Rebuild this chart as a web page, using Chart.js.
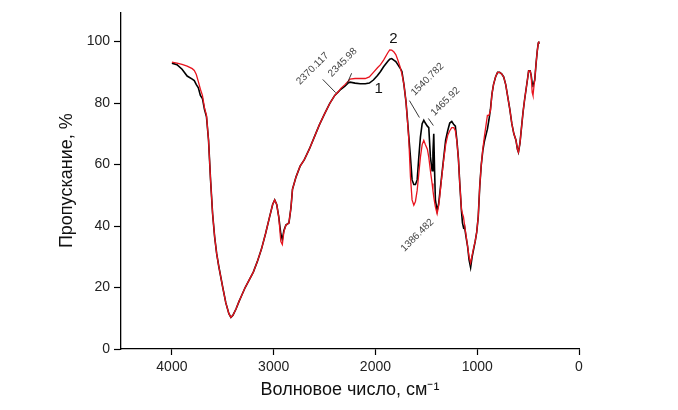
<!DOCTYPE html>
<html>
<head>
<meta charset="utf-8">
<script src="https://cdn.jsdelivr.net/npm/chart.js@4/dist/chart.umd.min.js"></script>
<style>
html,body{margin:0;padding:0;background:#fff;}
#wrap{width:678px;height:410px;}
</style>
</head>
<body>
<div id="wrap"><canvas id="c" width="678" height="410"></canvas></div>
<script>
// Wavenumbers, cm^-1
const wavenumbers = [4000,3950,3900,3850,3800,3780,3760,3740,3720,3700,3680,3660,3640,3620,3600,3580,3560,3540,3500,3470,3440,3420,3400,3370,3340,3320,3280,3240,3200,3160,3120,3080,3040,3010,2990,2970,2950,2930,2915,2900,2880,2850,2830,2815,2780,2740,2700,2650,2600,2550,2500,2450,2400,2370,2340,2300,2270,2250,2200,2150,2100,2060,2020,1980,1950,1920,1880,1860,1840,1820,1800,1780,1760,1740,1720,1700,1685,1672,1656,1640,1623,1607,1590,1574,1558,1541,1525,1510,1490,1476,1460,1443,1435,1427,1419,1411,1394,1380,1370,1350,1330,1310,1290,1270,1250,1230,1215,1200,1185,1170,1155,1145,1135,1125,1110,1095,1080,1065,1050,1035,1020,1005,990,975,960,945,930,915,900,885,870,855,840,820,800,780,760,740,720,700,680,660,640,620,605,595,580,565,550,535,520,505,495,480,470,460,452,444,435,422,410,400,395];
// Sample 1 (black), transmittance %
const sample1 = [93.0,92.5,91.0,88.8,87.8,87.3,86.0,85.0,82.5,81.5,78.0,75.5,68.0,55.0,44.0,36.5,31.0,27.0,20.0,15.0,11.5,10.3,11.0,13.0,15.5,17.0,20.0,22.5,25.0,28.5,32.5,37.5,43.0,47.0,48.5,47.0,43.0,37.5,35.5,38.5,40.3,41.0,46.0,52.0,56.0,59.5,61.5,65.0,69.0,73.0,76.5,79.8,82.5,83.5,84.5,85.5,86.5,86.8,86.5,86.3,86.3,86.5,87.5,89.0,90.3,91.8,93.5,94.3,94.5,94.0,93.5,92.5,91.5,90.3,86.0,80.5,74.5,69.0,62.4,55.0,53.5,53.5,55.0,62.4,69.0,73.3,74.4,73.5,72.5,72.0,62.5,58.0,64.0,70.0,58.0,48.5,45.0,47.0,50.0,56.0,62.0,68.0,71.0,73.5,74.0,73.0,72.5,68.0,62.0,53.0,45.0,41.0,39.5,40.0,36.5,33.5,29.0,26.5,30.0,32.5,35.0,38.0,43.0,53.0,60.0,64.5,67.5,69.5,71.5,74.5,78.0,83.0,86.0,88.5,90.0,90.0,89.5,88.5,86.0,82.0,78.0,73.3,70.0,68.0,65.0,64.0,67.0,72.0,77.0,81.0,84.5,88.0,90.5,90.5,89.0,86.5,86.0,86.5,87.5,92.8,97.0,99.5,100.0];
// Sample 2 (red), transmittance %
const sample2 = [93.3,93.0,92.6,92.0,91.2,90.6,89.3,87.0,84.5,82.5,78.5,76.0,68.0,55.0,44.0,36.5,31.0,27.0,20.0,15.0,11.5,10.3,11.0,13.0,15.5,17.0,20.0,22.5,25.0,28.5,32.5,37.5,43.0,47.0,48.5,47.0,43.0,35.0,34.0,38.0,40.3,41.0,46.0,52.0,56.0,59.5,61.5,65.0,69.0,73.0,76.5,79.8,82.5,83.5,84.8,86.0,87.0,87.8,88.0,88.0,88.0,88.5,90.0,91.5,92.5,94.0,96.3,97.3,97.2,96.7,95.8,94.0,92.0,89.5,86.0,80.5,74.0,67.9,56.0,48.5,46.8,48.0,51.6,57.0,62.4,66.5,67.9,66.5,65.0,62.4,58.0,53.8,51.5,49.5,47.8,46.2,44.0,46.5,49.0,55.5,61.5,66.5,69.5,71.0,72.0,72.0,71.0,67.5,62.0,53.0,45.5,44.0,43.0,40.5,37.0,33.5,30.0,28.0,30.5,33.0,35.0,38.0,43.0,53.0,60.0,65.0,69.0,72.5,76.0,76.0,77.5,83.0,86.0,88.5,90.0,90.0,89.5,88.5,86.0,82.0,78.0,73.3,70.0,68.0,65.0,64.0,67.0,72.0,77.0,81.0,84.5,88.0,90.5,90.5,89.0,83.5,82.5,85.0,87.5,92.8,97.0,99.5,100.0];
// Axis ticks
const xTicks = [4000,3000,2000,1000,0];
const yTicks = [0,20,40,60,80,100];
// Peak labels: text, anchor (wavenumber, %) for text centre, leader line from/to
const peakLabels = ["2370.117","2345.98","1540.782","1465.92","1386.482"];
const peakTextPos = [[2617,91.2],[2322,93.2],[1489,87.7],[1313,80.5],[1588,37.0]];
const peakLeaders = [[[2518,87.7],[2391,83.4]],[[2234,89.7],[2283,86.0]],[[1666,80.8],[1568,75.3]],[[1480,75.0],[1431,72.7]],null];
const curveNames = ["1","2"];
const curveNamePos = [[1969,84.7],[1823,101.0]];

const toPts = (ys) => wavenumbers.map((w,i)=>({x:w,y:ys[i]}));

const annotate = {
  id:'annotate',
  afterDatasetsDraw(chart){
    const {ctx, scales:{x,y}} = chart;
    ctx.save();
    ctx.strokeStyle = '#222';
    ctx.lineWidth = 0.9;
    peakLeaders.forEach(l=>{
      if(!l) return;
      ctx.beginPath();
      ctx.moveTo(x.getPixelForValue(l[0][0]), y.getPixelForValue(l[0][1]));
      ctx.lineTo(x.getPixelForValue(l[1][0]), y.getPixelForValue(l[1][1]));
      ctx.stroke();
    });
    ctx.fillStyle = '#444';
    ctx.font = '10px "Liberation Sans", Arial, sans-serif';
    ctx.textAlign = 'center';
    ctx.textBaseline = 'middle';
    peakLabels.forEach((t,i)=>{
      const px = x.getPixelForValue(peakTextPos[i][0]);
      const py = y.getPixelForValue(peakTextPos[i][1]);
      ctx.save();
      ctx.translate(px,py);
      ctx.rotate(-Math.PI/4);
      ctx.fillText(t,0,0);
      ctx.restore();
    });
    ctx.fillStyle = '#111';
    ctx.font = '15px "Liberation Sans", Arial, sans-serif';
    curveNames.forEach((t,i)=>{
      ctx.fillText(t, x.getPixelForValue(curveNamePos[i][0]), y.getPixelForValue(curveNamePos[i][1]));
    });
    ctx.restore();
  }
};

const tickFont = {family:'"Liberation Sans", Arial, sans-serif', size:14};
const titleFont = {family:'"Liberation Sans", Arial, sans-serif', size:18};

new Chart(document.getElementById('c'), {
  type:'line',
  data:{
    datasets:[
      {label:'2', data:toPts(sample2), borderColor:'#e8141e', borderWidth:1.3, pointRadius:0, tension:0, fill:false, order:0},
      {label:'1', data:toPts(sample1), borderColor:'#000000', borderWidth:1.6, pointRadius:0, tension:0, fill:false, order:1}
    ]
  },
  options:{
    responsive:false,
    animation:false,
    events:[],
    layout:{padding:{left:52, right:99, top:12, bottom:0}},
    plugins:{legend:{display:false}, tooltip:{enabled:false}},
    scales:{
      x:{
        type:'linear', reverse:true, min:0, max:4500,
        afterBuildTicks:(s)=>{ s.ticks = xTicks.map(v=>({value:v})); },
        afterFit:(s)=>{ s.height = 61; },
        ticks:{font:tickFont, color:'#222', padding:4, maxRotation:0, autoSkip:false, callback:(v)=>String(v)},
        grid:{drawOnChartArea:false, drawTicks:true, tickLength:6, color:'#000', tickWidth:1.2},
        border:{display:true, color:'#000', width:1.3},
        title:{display:true, text:'Волновое число, см⁻¹', font:titleFont, color:'#111', padding:{top:0,bottom:9}}
      },
      y:{
        type:'linear', min:0, max:109.5,
        afterBuildTicks:(s)=>{ s.ticks = yTicks.map(v=>({value:v})); },
        afterFit:(s)=>{ s.width = 69; },
        ticks:{font:tickFont, color:'#222', padding:4, autoSkip:false, callback:(v)=>String(v)},
        grid:{drawOnChartArea:false, drawTicks:true, tickLength:7, color:'#000', tickWidth:1.2},
        border:{display:true, color:'#000', width:1.3},
        title:{display:true, text:'Пропускание, %', font:titleFont, color:'#111', padding:{top:4,bottom:4}}
      }
    }
  },
  plugins:[annotate]
});
</script>
</body>
</html>
